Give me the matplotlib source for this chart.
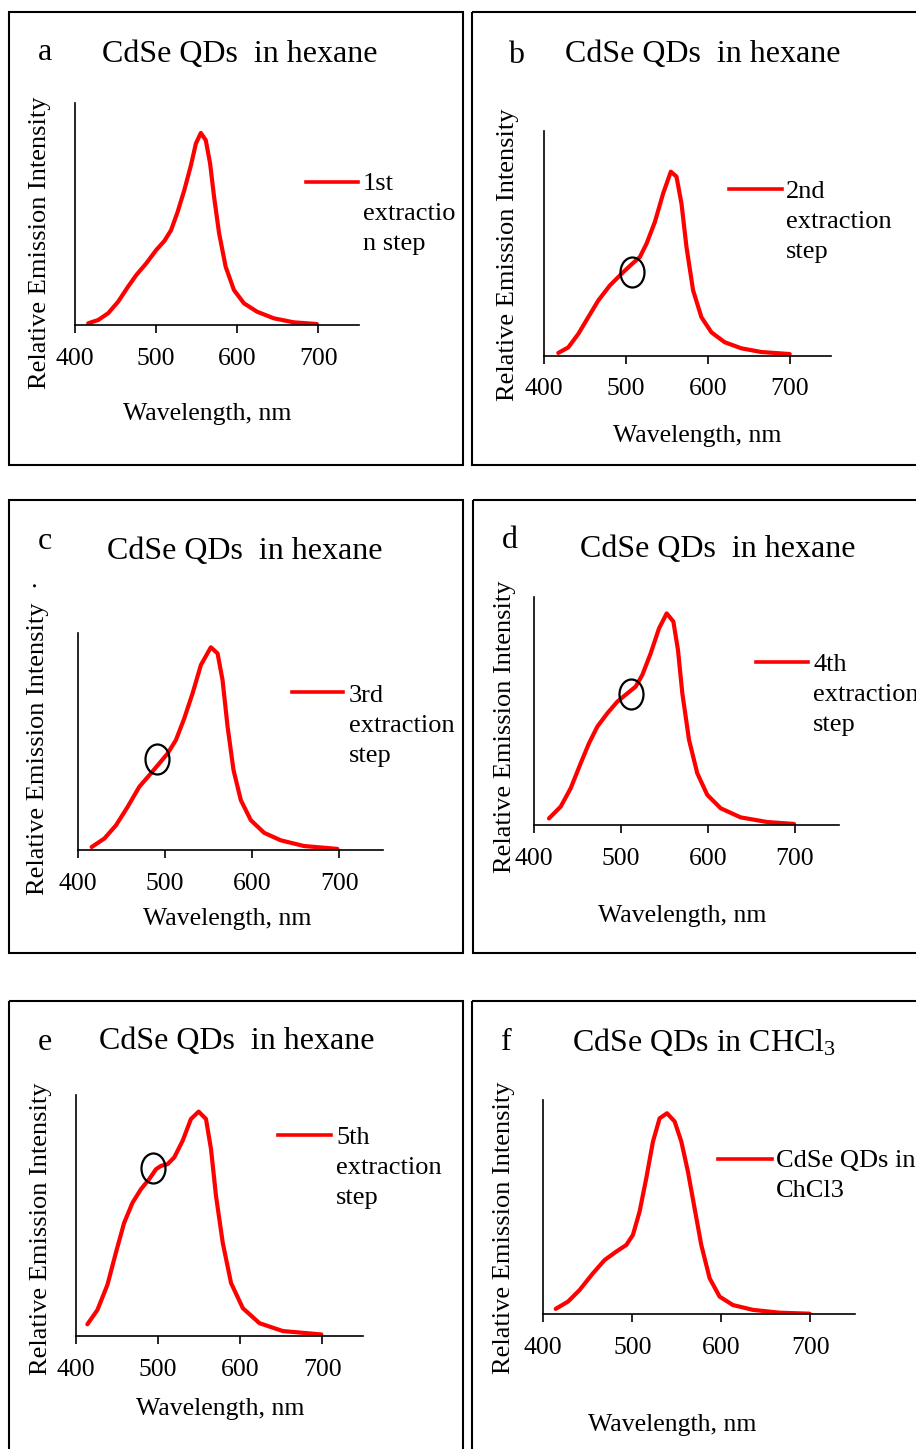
import matplotlib
matplotlib.use("Agg")
import matplotlib.pyplot as plt
from matplotlib.lines import Line2D
from matplotlib.patches import Rectangle
from matplotlib.path import Path
from matplotlib.transforms import Affine2D

plt.rcParams['font.family'] = 'Liberation Serif'
plt.rcParams['mathtext.fontset'] = 'custom'
plt.rcParams['mathtext.rm'] = 'Liberation Serif'
plt.rcParams['mathtext.it'] = 'Liberation Serif:italic'

W, H = 916, 1449
RED = '#ff0000'

# emission spectra (nm, intensity scaled to the band maximum)
wl_1 = [416.3, 428.6, 440.8, 453.1, 465.3, 475.5, 487.8, 500, 510.2, 518.4,
        526.5, 534.7, 542.9, 549, 555.1, 561.2, 566.5, 571.4, 577.6, 585.7,
        595.9, 608.2, 624.5, 644.9, 669.4, 698]
em_1 = [0.009, 0.026, 0.061, 0.121, 0.199, 0.26, 0.321, 0.39, 0.438, 0.494,
        0.589, 0.702, 0.832, 0.945, 1.0, 0.962, 0.841, 0.667, 0.477, 0.303,
        0.182, 0.113, 0.069, 0.035, 0.014, 0.005]

wl_2 = [417.1, 429.3, 441.5, 453.7, 466, 480.2, 494.4, 506.6, 516.8, 525,
        535.2, 545.3, 554.7, 561.6, 567.7, 573.8, 581.9, 592.1, 604.3, 620.6,
        641, 665.4, 700]
em_2 = [0.015, 0.045, 0.118, 0.209, 0.30, 0.382, 0.445, 0.496, 0.536, 0.609,
        0.727, 0.882, 1.0, 0.973, 0.827, 0.591, 0.355, 0.209, 0.127, 0.073,
        0.04, 0.02, 0.009]

wl_3 = [416, 430.6, 443.9, 457.3, 470.7, 482.2, 493.6, 503.2, 512.7, 522.3,
        531.8, 541.4, 552.8, 560.5, 566.2, 572, 578.8, 587.2, 598.7, 614,
        633.1, 659.8, 698]
em_3 = [0.016, 0.058, 0.123, 0.214, 0.313, 0.37, 0.428, 0.477, 0.543, 0.65,
        0.773, 0.913, 1.0, 0.97, 0.839, 0.609, 0.395, 0.247, 0.148, 0.086,
        0.049, 0.021, 0.007]

wl_4 = [417.2, 430.7, 442.1, 453.6, 463.2, 472.8, 484.3, 495.8, 507.3, 516.9,
        524.5, 534.1, 543.7, 552.5, 560.2, 565.5, 570.5, 578.2, 587.7, 599.2,
        614.6, 637.5, 668.2, 698.9]
em_4 = [0.031, 0.087, 0.173, 0.291, 0.386, 0.465, 0.528, 0.583, 0.622, 0.654,
        0.709, 0.811, 0.929, 1.0, 0.961, 0.827, 0.622, 0.402, 0.244, 0.142,
        0.079, 0.036, 0.014, 0.005]

wl_5 = [414.2, 426.4, 438.6, 448.8, 458.9, 469.1, 479.3, 489.4, 497.6, 503.7,
        511.8, 519.9, 530.1, 540.2, 549.6, 558.5, 564.6, 570.7, 578.9, 589,
        603.3, 623.6, 652, 698.8]
em_5 = [0.052, 0.116, 0.228, 0.37, 0.504, 0.594, 0.654, 0.699, 0.743, 0.758,
        0.766, 0.796, 0.87, 0.967, 1.0, 0.967, 0.833, 0.624, 0.415, 0.236,
        0.124, 0.057, 0.022, 0.007]

wl_chcl3 = [413.9, 427.7, 440.8, 455.8, 468.9, 482, 493.3, 500.7, 508.2, 515.7,
            523.2, 530.7, 539, 547.6, 555.1, 562.5, 570, 577.5, 586.9, 598.1,
            613.1, 635.6, 665.5, 699.3]
em_chcl3 = [0.027, 0.063, 0.121, 0.204, 0.27, 0.312, 0.345, 0.395, 0.511,
            0.677, 0.859, 0.975, 1.0, 0.959, 0.859, 0.71, 0.527, 0.345, 0.179,
            0.088, 0.046, 0.022, 0.008, 0.003]

# shoulder marked on the spectra of steps 2-5
shoulder_wl = [None, 507, 491, 512, 494, None]
shoulder_em = [None, 0.457, 0.448, 0.619, 0.748, None]

letters = ['a', 'b', 'c', 'd', 'e', 'f']
titles = ['CdSe QDs  in hexane'] * 5 + [r'CdSe QDs in CHCl$_3$']
labels = [['1st', 'extractio', 'n step'], ['2nd', 'extraction', 'step'],
          ['3rd', 'extraction', 'step'], ['4th', 'extraction', 'step'],
          ['5th', 'extraction', 'step'], ['CdSe QDs in', 'ChCl3']]
ylabels = ['Relative Emission Intensity'] * 2 + ['Relative Emission Intensity  \u00b7'] \
    + ['Relative Emission Intensity'] * 3
xticks = [400, 500, 600, 700]

spectra = [(wl_1, em_1), (wl_2, em_2), (wl_3, em_3),
           (wl_4, em_4), (wl_5, em_5), (wl_chcl3, em_chcl3)]

# layout in pixels from the top-left corner
# box, plot area (x0, x1, y0, y1), y-limit, letter, title, ylabel, xlabel, legend
layout = [
    dict(box=(9, 12, 463, 465), area=(75, 359, 103, 325), ytop=1.156,
         letter=(38, 60), title=(102, 62), ylab=(40, 242.5), xlab=(207, 420),
         leg=(306, 358, 182, 363, 190)),
    dict(box=(472, 12, 940, 465), area=(544.3, 830.6, 131, 355.7), ytop=1.221,
         letter=(508, 63), title=(565, 62), ylab=(508, 255), xlab=(697, 442),
         leg=(729, 782, 189, 786, 198)),
    dict(box=(9, 500, 463, 953), area=(77.7, 382.7, 633.3, 850.3), ytop=1.069,
         letter=(38, 549), title=(107, 559), ylab=(38.3, 737.5), xlab=(227, 925),
         leg=(292, 343, 692, 349, 702)),
    dict(box=(473, 500, 940, 953), area=(534, 838.5, 597.3, 825), ytop=1.076,
         letter=(502, 548), title=(580, 557.5), ylab=(505, 726.7), xlab=(682.5, 921.7),
         leg=(756, 808, 662, 813, 671)),
    dict(box=(9, 1001, 463, 1470), area=(75.7, 363.4, 1095, 1336), ytop=1.074,
         letter=(38, 1050), title=(99, 1049), ylab=(40.8, 1229), xlab=(220, 1415),
         leg=(278, 331, 1135, 336, 1144)),
    dict(box=(472, 1001, 940, 1470), area=(543.3, 854.8, 1100, 1314.3), ytop=1.066,
         letter=(501, 1050), title=(572, 1051), ylab=(504, 1228), xlab=(672, 1431),
         leg=(718, 772, 1159, 776, 1167)),
]

fig = plt.figure(figsize=(W / 100, H / 100), dpi=100)
PX = Affine2D().scale(1 / W, -1 / H).translate(0, 1) + fig.transFigure

ring = Path.unit_circle().transformed(Affine2D().scale(0.8, 1.0))

for i, lay in enumerate(layout):
    bx0, by0, bx1, by1 = lay['box']
    fig.add_artist(Rectangle((bx0, by0), bx1 - bx0, by1 - by0, transform=PX,
                             fill=False, ec='black', lw=1.5))

    x0, x1, y0, y1 = lay['area']
    ax = fig.add_axes([x0 / W, 1 - y1 / H, (x1 - x0) / W, (y1 - y0) / H])
    wl, em = spectra[i]
    ax.plot(wl, em, color=RED, lw=3.0, solid_joinstyle='round',
            solid_capstyle='round')
    if shoulder_wl[i] is not None:
        ax.plot([shoulder_wl[i]], [shoulder_em[i]], marker=ring, ms=21.6,
                mfc='none', mec='black', mew=1.6, ls='none', clip_on=False)

    ax.set_xlim(400, 750)
    ax.set_ylim(0, lay['ytop'])
    ax.set_xticks(xticks)
    ax.set_yticks([])
    for side in ['top', 'right']:
        ax.spines[side].set_visible(False)
    for side in ['left', 'bottom']:
        ax.spines[side].set_linewidth(1.2)
    ax.tick_params(axis='x', direction='out', length=5.8, width=1.2, pad=10.5,
                   labelsize=18.5)
    ax.patch.set_alpha(0)

    ax.set_xlabel('Wavelength, nm', fontsize=18.5, va='baseline')
    ax.xaxis.set_label_coords(*lay['xlab'], transform=PX)
    ax.set_ylabel(ylabels[i], fontsize=19, va='center')
    ax.yaxis.set_label_coords(*lay['ylab'], transform=PX)

    fig.text(*lay['letter'], letters[i], transform=PX, fontsize=23,
             ha='left', va='baseline')
    fig.text(*lay['title'], titles[i], transform=PX, fontsize=23,
             ha='left', va='baseline')

    # legend: line sample beside the first line of a wrapped label
    lx0, lx1, ly, tx, ty = lay['leg']
    fig.add_artist(Line2D([lx0, lx1], [ly, ly], transform=PX, color=RED, lw=2.6))
    for k, line in enumerate(labels[i]):
        fig.text(tx, ty + 30 * k, line, transform=PX, fontsize=19,
                 ha='left', va='baseline')

fig.savefig('out.png', dpi=100, facecolor='white')
